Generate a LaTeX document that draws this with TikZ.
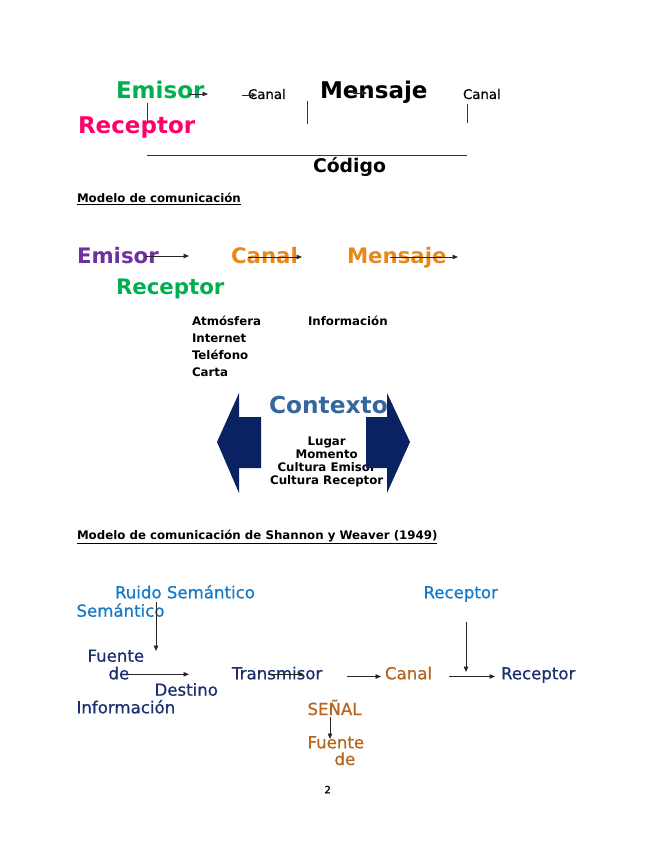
\documentclass[tikz,border=0pt]{standalone}
\usepackage{fontspec}
\setmainfont{DejaVu Sans}
\newfontfamily\gruesa[FakeBold=0.7]{DejaVu Sans}
\usetikzlibrary{arrows.meta}
\usetikzlibrary{positioning}

\definecolor{verde}{HTML}{00B050}
\definecolor{rosa}{HTML}{FF0066}
\definecolor{morado}{HTML}{7030A0}
\definecolor{naranja}{HTML}{E9881A}
\definecolor{azulctx}{HTML}{35679C}
\definecolor{marino}{HTML}{0A2262}
\definecolor{azul}{HTML}{1479C8}
\definecolor{marinotxt}{HTML}{1B2F6E}
\definecolor{cafe}{HTML}{B5651D}

\tikzset{
	palabra/.style={anchor=base west, inner sep=0pt, outer sep=0pt},
	grande/.style={palabra, font=\fontsize{23}{27}\selectfont\bfseries},
	media/.style={palabra, font=\fontsize{21.3}{25}\selectfont\bfseries},
	chica/.style={palabra, font=\fontsize{11.8}{14}\selectfont\bfseries},
	normal/.style={palabra, font=\gruesa\fontsize{16.6}{20}\selectfont},
	canalito/.style={palabra, font=\gruesa\fontsize{13.3}{16}\selectfont},
	flecha/.style={-{Triangle[length=5.5pt,width=4.5pt]}, line width=0.9pt, black!85},
	raya/.style={line width=0.9pt, black!80}
}

\begin{document}
\begin{tikzpicture}[x=1pt, y=-1pt]
			\useasboundingbox (0,0) rectangle (655,848);

			% esquema superior
			\node[grande, verde] (EmisorA) at (116,99) {Emisor};
			\node[grande, rosa] (ReceptorA) at (78,133) {Receptor};
			\node[canalito] (CanalA) at (248,99) {Canal};
			\node[grande] (MensajeA) at (320,99) {Mensaje};
			\node[canalito] (CanalB) at (463,99) {Canal};
			\node[palabra, font=\fontsize{18.8}{22}\selectfont\bfseries] (Codigo) at (313,172.5) {Código};
			\node[chica] (Modelo) at (77,202.7) {\underline{Modelo de comunicación}};

			\coordinate (EmisorAIni) at (189,94);
			\coordinate (EmisorAFin) at (208,94);
			\coordinate (CanalAIni) at (242,95);
			\coordinate (CanalAFin) at (257,95);
			\coordinate (MensajeAIni) at (353,93);
			\coordinate (MensajeAFin) at (367,93);
			\draw[flecha] (EmisorAIni) -- (EmisorAFin);
			\draw[flecha] (CanalAIni) -- (CanalAFin);
			\draw[flecha] (MensajeAIni) -- (MensajeAFin);

			\coordinate (CodigoIzq) at (147,155);
			\coordinate (CodigoMed) at (307,155);
			\coordinate (CodigoDer) at (467,155);
			\draw[raya] (147,103) -- (147,123);
			\draw[raya] (307,101) -- (307,124);
			\draw[raya] (467,104) -- (467,123);
			\draw[raya] (CodigoIzq) -- (CodigoDer);

			% modelo de comunicacion
			\node[media, morado] (EmisorB) at (77,263.3) {Emisor};
			\node[media, naranja] (CanalC) at (231,263.3) {Canal};
			\node[media, naranja] (MensajeB) at (347,263.3) {Mensaje};
			\node[media, verde] (ReceptorB) at (116,294.3) {Receptor};

			\coordinate (EmisorBIni) at (145,256);
			\coordinate (EmisorBFin) at (189,256);
			\coordinate (CanalCIni) at (248,257);
			\coordinate (CanalCFin) at (302,257);
			\coordinate (MensajeBIni) at (390,257);
			\coordinate (MensajeBFin) at (458,257);
			\draw[flecha] (EmisorBIni) -- (EmisorBFin);
			\draw[flecha] (CanalCIni) -- (CanalCFin);
			\draw[flecha] (MensajeBIni) -- (MensajeBFin);

			\node[chica] (Atmosfera) at (192,325.7) {Atmósfera};
			\node[chica] (Internet) at ([yshift=-17pt]Atmosfera.base west) {Internet};
			\node[chica] (Telefono) at ([yshift=-17pt]Internet.base west) {Teléfono};
			\node[chica] (Carta) at ([yshift=-17pt]Telefono.base west) {Carta};
			\node[chica] (Informacion) at (308,325.7) {Información};

			% contexto
			\node[palabra, azulctx, font=\fontsize{23.3}{27}\selectfont\bfseries] (Contexto) at (269,413.3) {Contexto};
			\node[chica, anchor=base] (Lugar) at (326.7,445) {Lugar};
			\node[chica, anchor=base] (Momento) at ([yshift=-13.3pt]Lugar.base) {Momento};
			\node[chica, anchor=base] (CulturaEmisor) at ([yshift=-12.8pt]Momento.base) {Cultura Emisor};
			\node[chica, anchor=base] (CulturaReceptor) at ([yshift=-13.6pt]CulturaEmisor.base) {Cultura Receptor};

			\fill[marino] (217,442) -- (239,393) -- (239,417) -- (261,417) -- (261,468) -- (239,468) -- (239,493) -- cycle;
			\fill[marino] (410,442) -- (387,393) -- (387,417) -- (366,417) -- (366,468) -- (387,468) -- (387,493) -- cycle;

			\node[chica] (Shannon) at (77,539.5) {\underline{Modelo de comunicación de Shannon y Weaver (1949)}};

			% Shannon y Weaver
			\node[normal, azul] (Ruido) at (115,598.3) {Ruido Semántico};
			\node[normal, azul] (Semantico) at (76.5,616.7) {Semántico};
			\node[normal, marinotxt] (FuenteA) at (87.5,661.7) {Fuente};
			\node[normal, marinotxt] (DeA) at (108.5,679.3) {de};
			\node[normal, marinotxt] (Destino) at (154.5,695.7) {Destino};
			\node[normal, marinotxt] (InformacionB) at (76.5,713.3) {Información};
			\node[normal, marinotxt] (Transmisor) at (232,679.3) {Transmisor};
			\node[normal, cafe] (CanalD) at (385,679.3) {Canal};
			\node[normal, marinotxt] (ReceptorC) at (501,679.3) {Receptor};
			\node[normal, azul] (ReceptorD) at (423.5,598.3) {Receptor};
			\node[normal, cafe] (Senal) at (307.5,715) {SEÑAL};
			\node[normal, cafe] (FuenteB) at (307.5,748.3) {Fuente};
			\node[normal, cafe] (DeB) at (334.5,765) {de};

			\coordinate (RuidoIni) at (156,602);
			\coordinate (RuidoFin) at (156,651);
			\coordinate (FuenteIni) at (128,674.3);
			\coordinate (FuenteFin) at (189,674.3);
			\coordinate (TransIni) at (268,674.3);
			\coordinate (TransFin) at (304,674.3);
			\coordinate (CanalDIni) at (347,676.5);
			\coordinate (CanalDFin) at (381,676.5);
			\coordinate (ReceptorIni) at (449,676.5);
			\coordinate (ReceptorFin) at (495,676.5);
			\coordinate (ReceptorDIni) at (466,621.5);
			\coordinate (ReceptorDFin) at (466,672);
			\coordinate (SenalIni) at (330,717);
			\coordinate (SenalFin) at (330,739);
			\draw[flecha] (RuidoIni) -- (RuidoFin);
			\draw[flecha] (FuenteIni) -- (FuenteFin);
			\draw[flecha] (TransIni) -- (TransFin);
			\draw[flecha] (CanalDIni) -- (CanalDFin);
			\draw[flecha] (ReceptorIni) -- (ReceptorFin);
			\draw[flecha] (ReceptorDIni) -- (ReceptorDFin);
			\draw[flecha] (SenalIni) -- (SenalFin);

			\node[palabra, font=\gruesa\fontsize{10}{12}\selectfont] (Pagina) at (324.5,793.3) {2};
		\end{tikzpicture}
\end{document}
